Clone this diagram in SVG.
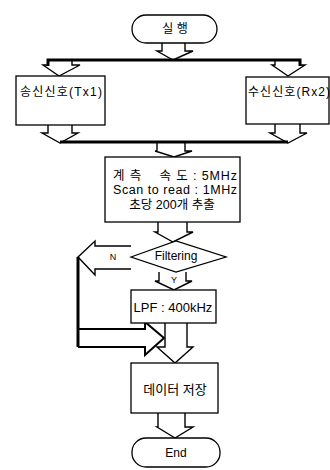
<svg xmlns="http://www.w3.org/2000/svg" width="330" height="470" viewBox="0 0 330 470">
<style>
.box{fill:#fff;stroke:#000;stroke-width:1.3}
.arr{fill:none;stroke:#000;stroke-width:1.4;stroke-linejoin:miter}
.bar{fill:none;stroke:#000;stroke-width:3}
.t{font-family:"Liberation Sans","Noto Sans CJK KR",sans-serif;font-size:12px;fill:#000}
.c{text-anchor:middle;dominant-baseline:central}
.s{font-size:9px}
.m{font-size:12.5px}
</style>
<rect width="330" height="470" fill="#fff"/>
<g id="connectors">
<path class="arr" d="M162 43 V51 H157 L173 60 L193 51 H185 V43"/>
<path class="bar" d="M48 66 V60 H300 V66"/>
<path class="arr" d="M48 60 V65 H43 L59 76 L80 65 H72 V60"/>
<path class="arr" d="M275 60 V65 H272 L288 76 L305 65 H300 V60"/>
<path class="arr" d="M48 125 V133 H42 L60 143 L78 133 H72 V125"/>
<path class="arr" d="M275 124 V133 H270 L288 143 L307 133 H300 V124"/>
<path class="bar" d="M60 142 H288"/>
<path class="arr" d="M157 142 V151 H155 L174 157 L192 151 H185 V142"/>
<path class="arr" d="M158 222 V232 H155 L173 242 L193 232 H187 V222"/>
<path class="arr" d="M131 246 H95 V241 L78 257 L95 275 V269 H131"/>
<path class="bar" d="M78 257 V347"/>
<path class="arr" style="stroke-width:2" d="M78 329 H145 V322 L164 338 L145 355 V347 H78"/>
<path class="arr" d="M159 272 V281 H155 L174 290 L192 281 H186 V272"/>
<text class="t c s" x="174" y="280">Y</text>
<text class="t c s" x="113" y="257">N</text>
<path class="arr" d="M165 323 V347 H157 L175 363 L193 347 H187 V323"/>
<path class="arr" d="M158 413 V427 H157 L175 438 L193 427 H185 V413"/>
</g>
<g id="start">
<rect class="box" x="132" y="15" width="85" height="28" rx="14"/>
<text class="t c" x="175" y="29">실 행</text>
</g>
<g id="tx">
<rect class="box" x="16" y="76" width="89" height="49"/>
<text class="t" x="20" y="96" textLength="82" lengthAdjust="spacing">송신신호(Tx1)</text>
</g>
<g id="rx">
<rect class="box" x="246" y="77" width="83" height="47"/>
<text class="t" x="248" y="96" textLength="82" lengthAdjust="spacing">수신신호(Rx2)</text>
</g>
<g id="measure">
<rect class="box" x="105" y="157" width="135" height="65"/>
<text class="t c m" x="175" y="176" style="white-space:pre" textLength="124" lengthAdjust="spacing">계 측    속 도 : 5MHz</text>
<text class="t c m" x="175" y="190" textLength="124" lengthAdjust="spacing">Scan to read : 1MHz</text>
<text class="t c m" x="172" y="205">초당 200개 추출</text>
</g>
<g id="filtering">
<path class="box" d="M131 257 L176 241 L226 257 L176 272 Z"/>
<text class="t c" x="176" y="256">Filtering</text>
</g>
<g id="lpf">
<rect class="box" x="131" y="290" width="85" height="33"/>
<text class="t c" x="173" y="307" style="font-size:13px">LPF : 400kHz</text>
</g>
<g id="store">
<rect class="box" x="131" y="363" width="87" height="50"/>
<text class="t c" x="175" y="389" style="font-size:13px">데이터 저장</text>
</g>
<g id="end">
<rect class="box" x="132" y="438" width="88" height="29" rx="14"/>
<text class="t c" x="176" y="453">End</text>
</g>
</svg>
